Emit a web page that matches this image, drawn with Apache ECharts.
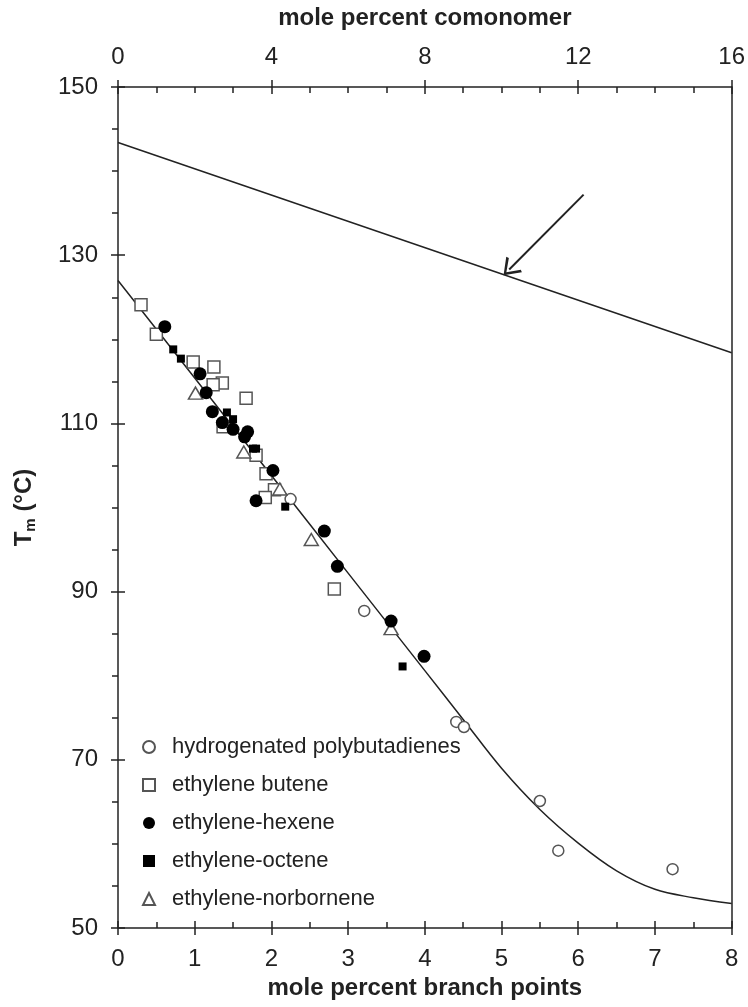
<!DOCTYPE html>
<html>
<head>
<meta charset="utf-8">
<script src="https://cdn.jsdelivr.net/npm/echarts@6/dist/echarts.min.js"></script>
<style>html,body{margin:0;padding:0;background:#fff;}#c{width:748px;height:1007px;}</style>
</head>
<body>
<div id="c"></div>
<script>
// ---- data ----
var bottomTicks = [0, 1, 2, 3, 4, 5, 6, 7, 8];
var topTicks = [0, 4, 8, 12, 16];
var yTicks = [50, 70, 90, 110, 130, 150];

var hydrogenatedPB = [[2.25,101.0],[3.21,87.7],[4.41,74.5],[4.51,73.9],[5.50,65.1],[5.74,59.2],[7.23,57.0]];
var ethyleneButene = [[0.30,124.1],[0.50,120.6],[0.98,117.3],[1.25,116.7],[1.36,114.8],[1.24,114.6],[1.67,113.0],[1.37,109.6],[1.80,106.2],[1.93,104.0],[2.04,102.1],[1.92,101.2],[2.82,90.3]];
var ethyleneHexene = [[0.61,121.5],[1.07,115.9],[1.15,113.65],[1.23,111.4],[1.36,110.1],[1.50,109.3],[1.69,109.0],[1.65,108.4],[2.02,104.4],[1.80,100.8],[2.69,97.2],[2.86,93.0],[3.56,86.5],[3.99,82.3]];
var ethyleneOctene = [[0.72,118.8],[0.82,117.7],[1.42,111.3],[1.50,110.5],[1.76,107.0],[1.80,107.0],[2.18,100.1],[3.71,81.1]];
var ethyleneNorbornene = [[1.01,113.6],[1.64,106.6],[2.11,102.2],[2.52,96.2],[3.56,85.6]];

var fitCurve = [[0,127.0],[1,115.4],[2,103.8],[3,92.2],[4,80.6],[4.5,74.8],[5,69.0],[5.5,64.1],[6,60.1],[6.5,56.8],[7,54.6],[7.5,53.6],[8,52.9]];
var upperLine = [[0,143.4],[8,118.4]];
var arrowFrom = [6.07,137.2];
var arrowTo = [5.10,128.3];

// ---- chart ----
var FONT = "'Liberation Sans', Arial, Helvetica, sans-serif";
var INK = '#222';
var chart = echarts.init(document.getElementById('c'), null, {renderer: 'canvas'});

function baseX(pos, min, max, interval) {
  return {type: 'value', position: pos, min: min, max: max, interval: interval,
    splitLine: {show: false}, axisLine: {show: true, onZero: false, lineStyle: {color: INK, width: 1.5}}};
}

var xBottom = baseX('bottom', bottomTicks[0], bottomTicks[bottomTicks.length-1], 1);
xBottom.axisTick = {show: true, length: 7, lineStyle: {color: INK, width: 1.5}};
xBottom.axisLabel = {fontSize: 24, color: INK, fontFamily: FONT, margin: 19};
xBottom.name = 'mole percent branch points';
xBottom.nameLocation = 'middle';
xBottom.nameGap = 48;
xBottom.nameTextStyle = {fontSize: 24, fontWeight: 'bold', color: INK, fontFamily: FONT};

var xBottomIn = baseX('bottom', bottomTicks[0], bottomTicks[bottomTicks.length-1], 1);
xBottomIn.axisLine.show = false;
xBottomIn.axisTick = {show: true, inside: true, length: 7, lineStyle: {color: INK, width: 1.5}};
xBottomIn.minorTick = {show: true, splitNumber: 2, length: 6, lineStyle: {color: INK, width: 1.5}};
xBottomIn.axisLabel = {show: false};

var xTop = baseX('top', topTicks[0], topTicks[topTicks.length-1], 4);
xTop.axisTick = {show: true, length: 7, lineStyle: {color: INK, width: 1.5}};
xTop.axisLabel = {fontSize: 24, color: INK, fontFamily: FONT, margin: 18};
xTop.name = 'mole percent comonomer';
xTop.nameLocation = 'middle';
xTop.nameGap = 57;
xTop.nameTextStyle = {fontSize: 24, fontWeight: 'bold', color: INK, fontFamily: FONT};

var xTopIn = baseX('top', topTicks[0], topTicks[topTicks.length-1], 4);
xTopIn.axisLine.show = false;
xTopIn.axisTick = {show: true, inside: true, length: 7, lineStyle: {color: INK, width: 1.5}};
xTopIn.minorTick = {show: true, splitNumber: 4, length: 6, lineStyle: {color: INK, width: 1.5}};
xTopIn.axisLabel = {show: false};

var yLeft = baseX('left', yTicks[0], yTicks[yTicks.length-1], 20);
yLeft.axisTick = {show: true, length: 7, lineStyle: {color: INK, width: 1.5}};
yLeft.minorTick = {show: true, splitNumber: 4, length: 6, lineStyle: {color: INK, width: 1.5}};
yLeft.axisLabel = {fontSize: 24, color: INK, fontFamily: FONT, margin: 20};
yLeft.name = 'T{s|m} (°C)';
yLeft.nameLocation = 'middle';
yLeft.nameRotate = 90;
yLeft.nameGap = 80;
yLeft.nameTextStyle = {fontSize: 24, fontWeight: 'bold', color: INK, fontFamily: FONT,
  rich: {s: {fontSize: 15, fontWeight: 'bold', color: INK, fontFamily: FONT, padding: [12, 0, 0, 0]}}};

var yLeftIn = baseX('left', yTicks[0], yTicks[yTicks.length-1], 20);
yLeftIn.axisLine.show = false;
yLeftIn.axisTick = {show: true, inside: true, length: 7, lineStyle: {color: INK, width: 1.5}};
yLeftIn.axisLabel = {show: false};

var yRight = baseX('right', yTicks[0], yTicks[yTicks.length-1], 20);
yRight.axisTick = {show: false};
yRight.axisLabel = {show: false};

var openStyle = {color: '#fff', borderColor: '#555', borderWidth: 1.5, opacity: 1};
var fillStyle = {color: '#000', borderColor: '#000', borderWidth: 0, opacity: 1};

chart.setOption({
  animation: false,
  backgroundColor: '#fff',
  grid: {left: 118, right: 15, top: 87, bottom: 79, containLabel: false},
  xAxis: [xBottom, xBottomIn, xTop, xTopIn],
  yAxis: [yLeft, yLeftIn, yRight],
  legend: {
    orient: 'vertical', left: 137, top: 731,
    itemWidth: 12, itemHeight: 12, itemGap: 16,
    textStyle: {fontSize: 22, color: INK, fontFamily: FONT, padding: [0, 0, 0, 12]},
    data: ['hydrogenated polybutadienes', 'ethylene butene', 'ethylene-hexene', 'ethylene-octene', 'ethylene-norbornene']
  },
  series: [
    {type: 'line', name: 'upper', data: upperLine, xAxisIndex: 0, yAxisIndex: 0, showSymbol: false,
      lineStyle: {color: INK, width: 1.5}, silent: true, z: 1,
      markLine: {silent: true, symbol: ['none', 'path://M0,12 L6,0 L12,12 L10.6,12.9 L6,3.2 L1.4,12.9 Z'], symbolSize: [22, 16],
        label: {show: false}, lineStyle: {color: INK, width: 2, type: 'solid'},
        data: [[{coord: arrowFrom}, {coord: arrowTo}]]}},
    {type: 'line', name: 'fit', data: fitCurve, xAxisIndex: 0, yAxisIndex: 0, showSymbol: false, smooth: 0.35,
      lineStyle: {color: INK, width: 1.5}, silent: true, z: 1},
    {type: 'scatter', name: 'hydrogenated polybutadienes', data: hydrogenatedPB, symbol: 'circle', symbolSize: 11, itemStyle: openStyle, z: 3},
    {type: 'scatter', name: 'ethylene butene', data: ethyleneButene, symbol: 'rect', symbolSize: 12, itemStyle: openStyle, z: 3},
    {type: 'scatter', name: 'ethylene-hexene', data: ethyleneHexene, symbol: 'circle', symbolSize: 13, itemStyle: fillStyle, z: 4},
    {type: 'scatter', name: 'ethylene-octene', data: ethyleneOctene, symbol: 'rect', symbolSize: 8, itemStyle: fillStyle, z: 4},
    {type: 'scatter', name: 'ethylene-norbornene', data: ethyleneNorbornene, symbol: 'triangle', symbolSize: [14, 12], itemStyle: openStyle, z: 3}
  ]
});
</script>
</body>
</html>
